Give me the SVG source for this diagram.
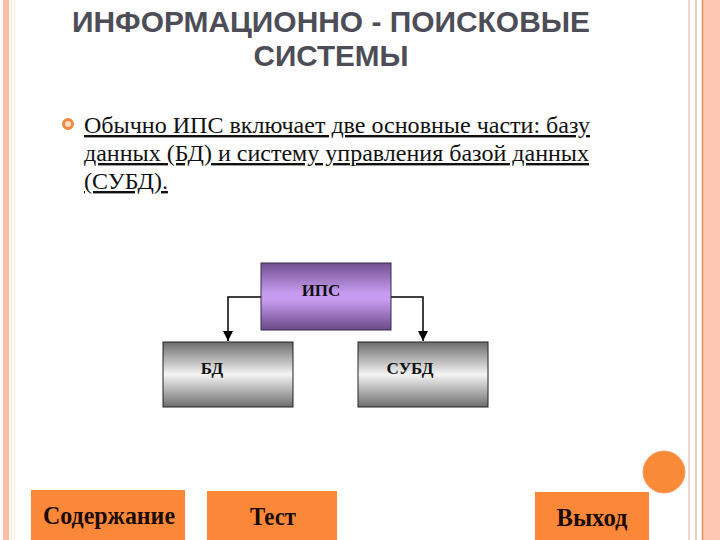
<svg xmlns="http://www.w3.org/2000/svg" width="720" height="540" viewBox="0 0 720 540">
<defs>
<style>
.title{font-family:"Liberation Sans",Arial,sans-serif;font-size:30px;font-weight:bold;fill:#4d4d57;text-anchor:middle}
.body{font-family:"Liberation Serif","Times New Roman",serif;font-size:24px;fill:#111;text-decoration:underline}
.node{font-family:"Liberation Serif","Times New Roman",serif;font-size:17px;font-weight:bold;fill:#111;text-anchor:middle}
.btn{font-family:"Liberation Serif","Times New Roman",serif;font-size:25px;font-weight:bold;fill:#1a0a00;text-anchor:middle}
.conn{fill:none;stroke:#000;stroke-width:1.5}
</style>
<linearGradient id="gp" x1="0" y1="0" x2="0" y2="1">
<stop offset="0" stop-color="#70508f"/>
<stop offset="0.45" stop-color="#c79cf0"/>
<stop offset="0.55" stop-color="#c79cf0"/>
<stop offset="1" stop-color="#6a4a88"/>
</linearGradient>
<linearGradient id="gg" x1="0" y1="0" x2="0" y2="1">
<stop offset="0" stop-color="#6c6c6c"/>
<stop offset="0.5" stop-color="#f4f4f4"/>
<stop offset="1" stop-color="#6e6e6e"/>
</linearGradient>
<marker id="arr" viewBox="0 0 10 10" refX="10" refY="5" markerWidth="7" markerHeight="7" orient="auto">
<path d="M0,0 L10,5 L0,10 Z" fill="#000"/>
</marker>
</defs>
<rect width="720" height="540" fill="#fff"/>
<!-- left border -->
<rect x="3" y="0" width="6" height="540" fill="#fbbfa8"/>
<line x1="11.5" y1="0" x2="11.5" y2="540" stroke="#f6e0d6" stroke-width="1"/>
<line x1="14.5" y1="0" x2="14.5" y2="540" stroke="#f4f0e4" stroke-width="1"/>
<!-- right border -->
<line x1="689" y1="0" x2="689" y2="540" stroke="#efd8c8" stroke-width="2"/>
<line x1="696" y1="0" x2="696" y2="540" stroke="#f2cfc0" stroke-width="2"/>
<rect x="702" y="0" width="18" height="540" fill="#fcc8b4"/>
<line x1="702.5" y1="0" x2="702.5" y2="540" stroke="#e98a68" stroke-width="1.5"/>

<text class="title" x="331" y="32" textLength="518" lengthAdjust="spacingAndGlyphs">ИНФОРМАЦИОННО - ПОИСКОВЫЕ</text>
<text class="title" x="331" y="66" textLength="155" lengthAdjust="spacingAndGlyphs">СИСТЕМЫ</text>

<circle cx="68" cy="124" r="4.5" fill="#fce0c8" stroke="#f08a3c" stroke-width="3"/>
<text class="body" x="84" y="133" textLength="506" lengthAdjust="spacingAndGlyphs">Обычно ИПС включает две основные части: базу</text>
<text class="body" x="84" y="161" textLength="505" lengthAdjust="spacingAndGlyphs">данных (БД) и систему управления базой данных</text>
<text class="body" x="84" y="189">(СУБД).</text>

<g id="connectors">
<path class="conn" d="M261,297 H228 V341" marker-end="url(#arr)"/>
<path class="conn" d="M391,297 H423 V341" marker-end="url(#arr)"/>
</g>
<g id="ips">
<rect x="261" y="263" width="130" height="67" fill="url(#gp)" stroke="#3a2a4a" stroke-width="1"/>
<text class="node" x="321" y="296">ИПС</text>
</g>
<g id="bd">
<rect x="163" y="342" width="130" height="65" fill="url(#gg)" stroke="#222" stroke-width="1"/>
<text class="node" x="212" y="374">БД</text>
</g>
<g id="subd">
<rect x="358" y="342" width="130" height="65" fill="url(#gg)" stroke="#222" stroke-width="1"/>
<text class="node" x="410" y="374">СУБД</text>
</g>

<circle cx="664" cy="472" r="21" fill="#f98a38" stroke="#f0a070" stroke-width="1"/>

<g id="btn-contents">
<rect x="31" y="490" width="154" height="50" fill="#fb8838"/>
<text class="btn" x="109" y="524" textLength="132" lengthAdjust="spacingAndGlyphs">Содержание</text>
</g>
<g id="btn-test">
<rect x="207" y="491" width="130" height="49" fill="#fb8838"/>
<text class="btn" x="273" y="525" textLength="46" lengthAdjust="spacingAndGlyphs">Тест</text>
</g>
<g id="btn-exit">
<rect x="535" y="492" width="114" height="48" fill="#fb8838"/>
<text class="btn" x="592" y="526" textLength="71" lengthAdjust="spacingAndGlyphs">Выход</text>
</g>
</svg>
